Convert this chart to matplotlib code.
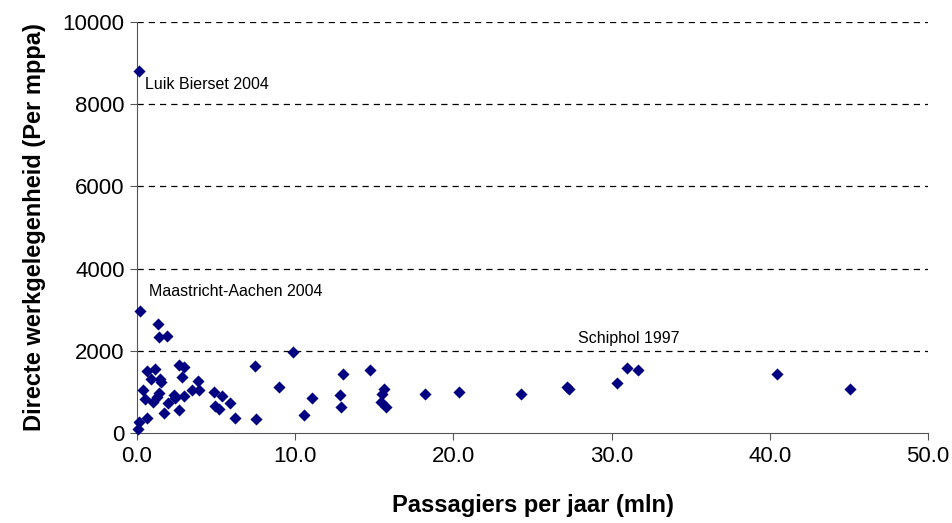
import matplotlib.pyplot as plt
import numpy as np

plt.rcParams['font.family'] = ['Liberation Sans', 'DejaVu Sans']

# passengers (mln) and direct employment per mppa
pax = [0.1, 0.2, 1.32, 1.41, 1.91, 9.87, 0.62, 1.15, 0.90, 1.43, 1.51, 2.63, 2.95,
       2.84, 3.85, 0.37, 3.47, 3.90, 0.52, 1.04, 1.41, 1.26, 2.31, 2.42, 2.95, 1.93,
       1.68, 2.63, 4.85, 5.38, 5.87, 4.94, 5.20, 6.22, 7.49, 7.45, 8.97, 10.55, 0.66,
       0.10, 0.03, 11.07, 13.04, 12.83, 12.91, 14.72, 15.62, 15.51, 15.41, 15.72,
       18.22, 20.33, 24.28, 27.2, 27.3, 30.35, 31.0, 31.67, 40.45, 45.07]
jobs = [8800, 2975, 2660, 2330, 2370, 1970, 1510, 1550, 1320, 1320, 1250, 1650, 1600,
        1355, 1270, 1040, 1045, 1045, 825, 760, 965, 885, 925, 845, 900, 740,
        480, 560, 990, 910, 720, 655, 575, 370, 340, 1640, 1125, 445, 355,
        275, 90, 845, 1430, 915, 625, 1525, 1070, 950, 760, 625,
        955, 990, 955, 1125, 1060, 1210, 1575, 1525, 1430, 1060]

labels = ["Luik Bierset 2004", "Maastricht-Aachen 2004", "Schiphol 1997"]
label_pos = [(0.5, 8470), (0.75, 3450), (27.85, 2290)]

fig = plt.figure(figsize=(9.53, 5.23), dpi=100)
ax = fig.add_axes([0.1438, 0.172, 0.83, 0.786])

for y in range(2000, 10001, 2000):
    ax.axhline(y, color='black', lw=0.9, ls=(0, (5, 4)), zorder=1)

ax.scatter(pax, jobs, marker='D', s=38, color='#000080', zorder=3,
           linewidths=0, clip_on=False)

for txt, (x, y) in zip(labels, label_pos):
    ax.text(x, y, txt, fontsize=11.5, va='center', ha='left')

ax.set_xlim(0, 50)
ax.set_ylim(0, 10000)
ax.set_xticks(np.arange(0, 51, 10))
ax.set_xticklabels([f"{v:.1f}" for v in range(0, 51, 10)])
ax.set_yticks(range(0, 10001, 2000))
ax.tick_params(labelsize=16, direction='out', length=5, color='#555555', pad=4)

for side in ['top', 'right']:
    ax.spines[side].set_visible(False)
for side in ['left', 'bottom']:
    ax.spines[side].set_color('#555555')

ax.set_xlabel("Passagiers per jaar (mln)", fontsize=17, fontweight='bold', labelpad=20)
ax.set_ylabel("Directe werkgelegenheid (Per mppa)", fontsize=17, fontweight='bold', labelpad=12)

fig.savefig("out.png")
